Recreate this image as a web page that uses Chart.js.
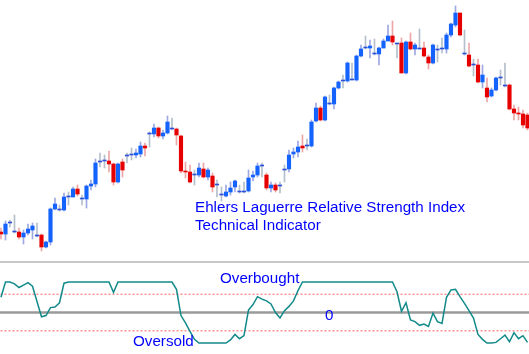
<!DOCTYPE html>
<html lang="en">
<head>
    <meta charset="UTF-8">
    <title>Ehlers Laguerre RSI</title>
    <style>
        body {
            margin: 0;
            padding: 0;
            background-color: #fff;
            width: 529px;
            height: 354px;
            overflow: hidden;
            position: relative;
            font-family: "Liberation Sans", Arial, sans-serif;
        }
        canvas {
            position: absolute;
            left: 0;
        }
        #priceChart { top: 0; }
        #lrsiChart { top: 263px; }
        .separator {
            position: absolute;
            left: 0;
            top: 261px;
            width: 529px;
            height: 2px;
            background-color: #c8c8c8;
        }
        .label {
            position: absolute;
            color: #0000ff;
            font-size: 15.2px;
            line-height: 15px;
            white-space: nowrap;
        }
        .title {
            left: 195px;
            top: 198px;
            line-height: 17.5px;
        }
    </style>
</head>
<body>

    <canvas id="priceChart" width="529" height="261"></canvas>
    <div class="separator"></div>
    <canvas id="lrsiChart" width="529" height="91"></canvas>

    <div class="label title">Ehlers Laguerre Relative Strength Index<br>Technical Indicator</div>
    <div class="label" style="left:220px; top:270px;">Overbought</div>
    <div class="label" style="left:325px; top:307px;">0</div>
    <div class="label" style="left:133px; top:333px;">Oversold</div>

    <script src="https://cdn.jsdelivr.net/npm/chart.js"></script>
    <script>
        // price candles (points)
        const open = [18, 16, 27, 18, 18, 13, 17, 20, 14, 15, 3, 8, 41, 40, 40, 53, 53, 61, 51, 51,
            64, 66, 88, 89, 89, 86, 68, 88, 94, 95, 95, 96, 104, 116, 116, 122, 114, 117, 121, 121,
            114, 79, 78, 75, 75, 81, 73, 74, 65, 55, 54, 58, 63, 58, 58, 59, 73, 75, 84, 75,
            62, 65, 64, 80, 81, 96, 98, 104, 104, 104, 129, 142, 130, 146, 146, 162, 169, 169, 170, 170,
            194, 202, 202, 196, 196, 202, 209, 214, 206, 207, 177, 208, 201, 201, 202, 193, 187, 200, 201, 201,
            215, 225, 237, 196, 195, 185, 185, 168, 162, 154, 160, 172, 164, 165, 141, 137, 136, 135];
        const high = [22, 29, 30, 35, 22, 20, 26, 27, 27, 16, 9, 42, 52, 45, 57, 58, 63, 65, 55, 65,
            70, 91, 97, 95, 99, 87, 87, 91, 97, 102, 101, 108, 107, 118, 126, 123, 120, 134, 132, 122,
            115, 88, 85, 80, 87, 87, 82, 77, 70, 63, 65, 68, 70, 65, 68, 80, 79, 87, 87, 77,
            68, 67, 68, 85, 100, 102, 109, 115, 111, 130, 147, 144, 154, 155, 163, 169, 175, 188, 187, 195,
            205, 214, 210, 211, 203, 211, 225, 229, 207, 212, 209, 217, 207, 221, 208, 195, 206, 205, 212, 217,
            227, 244, 237, 220, 207, 191, 191, 185, 172, 162, 173, 180, 187, 166, 145, 143, 140, 137];
        const low = [11, 10, 23, 17, 11, 6, 15, 11, 13, -1, 2, 5, 40, 39, 39, 45, 53, 54, 45, 42,
            60, 63, 83, 82, 78, 65, 67, 73, 87, 90, 92, 93, 94, 103, 113, 112, 111, 116, 120, 105,
            77, 72, 67, 65, 73, 72, 70, 58, 53, 49, 53, 55, 58, 57, 57, 58, 69, 73, 73, 60,
            58, 58, 57, 68, 78, 92, 93, 98, 100, 103, 128, 129, 129, 145, 141, 161, 162, 168, 170, 169,
            193, 201, 192, 195, 185, 202, 209, 205, 192, 177, 176, 200, 195, 201, 193, 181, 186, 188, 197, 197,
            213, 223, 214, 195, 183, 174, 167, 162, 148, 153, 159, 165, 163, 140, 130, 130, 122, 120];
        const close = [16, 26, 28, 19, 13, 17, 21, 24, 15, 3, 8, 41, 46, 41, 53, 54, 61, 56, 52, 64,
            66, 87, 89, 90, 86, 68, 86, 80, 95, 96, 97, 104, 102, 117, 122, 114, 117, 128, 122, 115,
            79, 78, 68, 76, 82, 73, 80, 63, 66, 56, 58, 62, 69, 59, 59, 72, 75, 84, 85, 62,
            65, 60, 65, 81, 95, 98, 103, 102, 105, 128, 142, 130, 153, 147, 162, 168, 170, 187, 171, 194,
            201, 203, 204, 197, 202, 209, 214, 208, 207, 177, 208, 201, 205, 202, 194, 187, 205, 201, 202, 215,
            226, 237, 215, 197, 184, 186, 168, 175, 153, 160, 172, 173, 165, 141, 137, 136, 125, 122];

        // Laguerre RSI (0..1)
        const lrsi = [0.75, 1, 1, 0.97, 0.91, 0.95, 0.99, 0.93, 0.68, 0.43, 0.45, 0.58, 0.59, 0.66, 0.98, 1, 1, 1, 1, 1,
            1, 1, 1, 1, 1, 0.83, 1, 1, 1, 1, 1, 1, 1, 1, 1, 1, 1, 1, 1, 0.88,
            0.45, 0.33, 0.19, 0.06, 0, 0, 0, 0, 0, 0, 0, 0.05, 0.14, 0.07, 0.12, 0.54, 0.63, 0.76, 0.72, 0.69,
            0.64, 0.5, 0.41, 0.53, 0.6, 0.69, 0.86, 1, 1, 1, 1, 1, 1, 1, 1, 1, 1, 1, 1, 1,
            1, 1, 1, 1, 1, 1, 1, 1, 0.84, 0.52, 0.66, 0.38, 0.35, 0.29, 0.31, 0.27, 0.49, 0.35, 0.32, 0.75,
            0.87, 0.88, 0.76, 0.65, 0.53, 0.41, 0.14, 0.06, 0, 0, 0.01, 0.07, 0.13, 0.02, 0.17, 0.07, 0.12, 0.01];
        const levelValues = [0.8, 0.5, 0.2];

        const xMin = -0.22;
        const xMax = xMin + 529 / 4.5;

        const bodyColor = [], wickColor = [];
        open.forEach((o, i) => {
            const c = close[i];
            if (c - o === 1) {
                bodyColor.push('#2b4fd6');
                wickColor.push('#b4bfcc');
            } else if (c > o) {
                bodyColor.push('#1463ff');
                wickColor.push('#9ea8e2');
            } else {
                bodyColor.push('#e60000');
                wickColor.push('#eca6a6');
            }
        });

        const wicks = open.map((o, i) => ({ x: i, y: [low[i], high[i]] }));
        const bodies = open.map((o, i) => ({ x: i, y: [o, close[i]] }));

        const xScale = { type: 'linear', display: false, min: xMin, max: xMax, offset: false };

        new Chart(document.getElementById('priceChart'), {
            type: 'bar',
            data: {
                datasets: [
                    { data: bodies, backgroundColor: bodyColor, barThickness: 3.5, grouped: false, order: 0 },
                    { data: wicks, backgroundColor: wickColor, barThickness: 1, grouped: false, order: 1 }
                ]
            },
            options: {
                responsive: false,
                animation: false,
                devicePixelRatio: 1,
                layout: { padding: 0 },
                scales: {
                    x: xScale,
                    y: { display: false, min: -11, max: 250 }
                },
                plugins: { legend: { display: false }, tooltip: { enabled: false } }
            }
        });

        const levelLine = (v) => [{ x: -1, y: v }, { x: 119, y: v }];

        new Chart(document.getElementById('lrsiChart'), {
            type: 'line',
            data: {
                datasets: [
                    {
                        data: lrsi.map((v, i) => ({ x: i, y: v })),
                        borderColor: '#138a8a', borderWidth: 1.5, pointRadius: 0, order: 0
                    },
                    {
                        data: levelLine(levelValues[0]),
                        borderColor: '#ff5a5a', borderWidth: 1, borderDash: [2, 2], pointRadius: 0, order: 1
                    },
                    {
                        data: levelLine(levelValues[1]),
                        borderColor: '#9a9a9a', borderWidth: 2.5, pointRadius: 0, order: 2
                    },
                    {
                        data: levelLine(levelValues[2]),
                        borderColor: '#ff5a5a', borderWidth: 1, borderDash: [2, 2], pointRadius: 0, order: 1
                    }
                ]
            },
            options: {
                responsive: false,
                animation: false,
                devicePixelRatio: 1,
                layout: { padding: 0 },
                scales: {
                    x: xScale,
                    y: { display: false, min: -0.1803, max: 1.3115 }
                },
                plugins: { legend: { display: false }, tooltip: { enabled: false } }
            }
        });
    </script>

</body>
</html>
